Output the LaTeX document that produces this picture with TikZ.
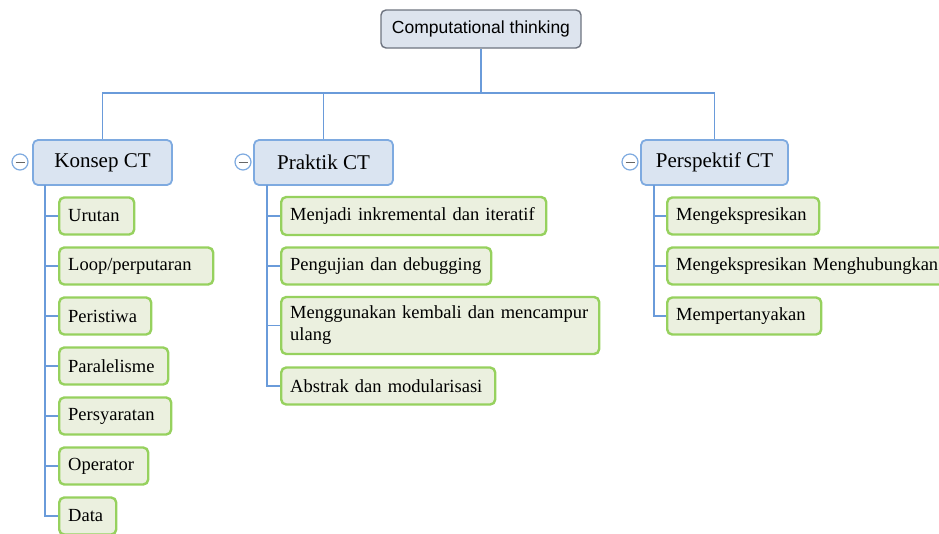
\documentclass[tikz,border=0pt]{standalone}
\usepackage{fontspec}
\setmainfont{Liberation Serif}
\newfontfamily\rootfont{Liberation Sans}
\begin{document}
\begin{tikzpicture}[x=1pt,y=-1pt,
  conn/.style={draw=connblue,line width=1.6pt},
  rootbox/.style={draw=rootgray,fill=rootfill,line width=1.4pt,rounded corners=5pt,
    minimum width=200pt,minimum height=38pt,inner sep=0pt,font=\rootfont\fontsize{17.5}{20}\selectfont},
  parbox/.style={draw=parborder,fill=parfill,line width=1.8pt,rounded corners=5pt,
    minimum height=45pt,inner sep=0pt,font=\fontsize{21}{24}\selectfont},
  kidbox/.style={draw=kidborder,fill=kidfill,line width=2.4pt,rounded corners=5pt,
    anchor=west,inner xsep=9pt,inner ysep=0pt,align=left,font=\fontsize{18.5}{22}\selectfont},
  colcirc/.style={circle,draw=parborder,fill=white,line width=1.2pt,minimum size=16pt,inner sep=0pt},
  minusmark/.style={draw=black!60,line width=1pt}
]
\definecolor{connblue}{HTML}{6A9BDA}
\definecolor{rootgray}{HTML}{6E7480}
\definecolor{rootfill}{HTML}{DDE4EE}
\definecolor{parborder}{HTML}{7EAAE0}
\definecolor{parfill}{HTML}{DAE4F1}
\definecolor{kidborder}{HTML}{96D15E}
\definecolor{kidfill}{HTML}{EBF0DF}
\useasboundingbox (0,0) rectangle (939,533);

% root
\node[rootbox] (root) at (481,29) {Computational thinking};
\coordinate (bus) at (481,93);

% parents
\node[parbox,minimum width=139pt] (konsep) at (102.5,162.5) {Konsep CT};
\node[parbox,minimum width=139pt] (praktik) at (323.5,162.5) {Praktik CT};
\node[parbox,minimum width=147pt] (persp) at (714.5,162.5) {Perspektif CT};

\draw[conn] (root.south) -- (bus) -| (konsep.north);
\draw[conn] (bus) -| (praktik.north);
\draw[conn] (bus) -| (persp.north);

% collapse circles
\node[colcirc] (kc) at (20,162) {};
\node[colcirc] (pc) at (243,162) {};
\node[colcirc] (vc) at (630,162) {};
\foreach \c in {kc,pc,vc}{\draw[minusmark] ([xshift=-4.5pt]\c.center) -- ([xshift=4.5pt]\c.center);}

% Konsep children
\coordinate (ks) at (45,185);
\node[kidbox,text width=57pt,minimum height=37pt] (k1) at (58,216) {Urutan};
\node[kidbox,text width=136pt,minimum height=37pt] (k2) at (58,266) {Loop/perputaran};
\node[kidbox,text width=74pt,minimum height=37pt] (k3) at (58,316) {Peristiwa};
\node[kidbox,text width=91pt,minimum height=37pt] (k4) at (58,366) {Paralelisme};
\node[kidbox,text width=94pt,minimum height=37pt] (k5) at (58,416) {Persyaratan};
\node[kidbox,text width=71pt,minimum height=37pt] (k6) at (58,466) {Operator};
\node[kidbox,text width=39pt,minimum height=37pt] (k7) at (58,516) {Data};
\foreach \k in {k1,k2,k3,k4,k5,k6,k7}{\draw[conn] (ks) |- (\k.west);}

% Praktik children
\coordinate (ps) at (267,185);
\node[kidbox,text width=247pt,minimum height=38pt] (p1) at (280,216) {Menjadi inkremental dan iteratif};
\node[kidbox,text width=192pt,minimum height=37pt] (p2) at (280,266) {Pengujian dan debugging};
\node[kidbox,text width=300pt,minimum height=57pt] (p3) at (280,325.5) {Menggunakan kembali dan mencampur\\ulang};
\node[kidbox,text width=196pt,minimum height=37pt] (p4) at (280,386) {Abstrak dan modularisasi};
\foreach \k in {p1,p2,p3,p4}{\draw[conn] (ps) |- (\k.west);}

% Perspektif children
\coordinate (vs) at (654,185);
\node[kidbox,text width=134pt,minimum height=37pt] (v1) at (666,216) {Mengekspresikan};
\node[kidbox,text width=270pt,minimum height=37pt] (v2) at (666,266) {Mengekspresikan Menghubungkan};
\node[kidbox,text width=136pt,minimum height=37pt] (v3) at (666,316) {Mempertanyakan};
\foreach \k in {v1,v2,v3}{\draw[conn] (vs) |- (\k.west);}
\end{tikzpicture}
\end{document}
